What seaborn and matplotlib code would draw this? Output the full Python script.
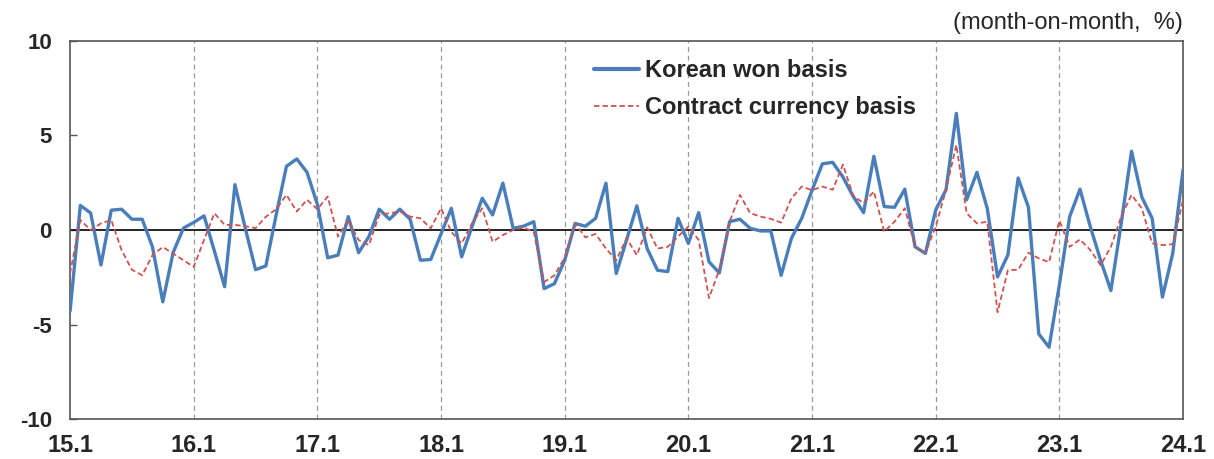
import numpy as np
import pandas as pd
import matplotlib
matplotlib.use("Agg")
import matplotlib.pyplot as plt
import seaborn as sns
from matplotlib.lines import Line2D

# ---- data (monthly, 2015.1 - 2024.1) ----
korean_won = [
    -4.3, 1.3, 0.9, -1.85, 1.05, 1.1, 0.57, 0.57, -0.9, -3.8, -1.2, 0.1,
    0.4, 0.75, -1.1, -3.0, 2.4, 0.1, -2.1, -1.9, 0.8, 3.37, 3.76, 3.05,
    1.35, -1.47, -1.33, 0.71, -1.2, -0.35, 1.1, 0.57, 1.1, 0.57, -1.6, -1.56,
    -0.2, 1.15, -1.42, 0.18, 1.68, 0.8, 2.48, 0.09, 0.2, 0.44, -3.1, -2.84,
    -1.6, 0.35, 0.2, 0.62, 2.48, -2.3, -0.53, 1.28, -0.98, -2.13, -2.2, 0.62,
    -0.71, 0.92, -1.68, -2.27, 0.44, 0.57, 0.09, -0.05, -0.05, -2.4, -0.44, 0.62,
    2.1, 3.5, 3.58, 2.8, 1.77, 0.92, 3.9, 1.24, 1.2, 2.16, -0.89, -1.24,
    1.06, 2.13, 6.17, 1.6, 3.05, 1.15, -2.48, -1.33, 2.75, 1.2, -5.5, -6.2,
    -2.9, 0.71, 2.16, 0.18, -1.6, -3.2, 0.35, 4.17, 1.74, 0.62, -3.55, -1.24,
    3.19,
]
contract_currency = [
    -2.3, 0.53, 0.0, 0.35, 0.53, -1.06, -2.1, -2.4, -1.33, -0.9, -1.24, -1.6,
    -1.95, -0.53, 0.89, 0.27, 0.27, 0.2, 0.1, 0.7, 1.1, 1.86, 0.98, 1.6,
    1.1, 1.77, -0.35, 0.53, -0.53, -0.8, 0.8, 0.89, 0.98, 0.71, 0.62, 0.09,
    1.15, -0.1, -0.71, 0.35, 1.15, -0.62, -0.27, 0.0, 0.14, -0.1, -2.75, -2.4,
    -1.45, 0.37, -0.39, -0.21, -0.98, -1.6, -0.44, -1.33, 0.14, -0.98, -0.89, -0.35,
    0.18, -0.53, -3.6, -2.1, 0.44, 1.86, 0.89, 0.71, 0.59, 0.39, 1.68, 2.3,
    2.1, 2.3, 2.13, 3.46, 1.8, 1.42, 2.04, -0.09, 0.44, 1.15, -0.89, -1.2,
    0.18, 2.13, 4.5, 0.89, 0.35, 0.44, -4.35, -2.13, -2.1, -1.2, -1.5, -1.7,
    0.5, -0.89, -0.5, -1.06, -1.86, -0.89, 0.71, 1.86, 1.15, -0.71, -0.8, -0.75,
    1.6,
]
tick_labels = ["15.1", "16.1", "17.1", "18.1", "19.1", "20.1", "21.1", "22.1", "23.1", "24.1"]
y_ticks = [-10, -5, 0, 5, 10]
series_names = ["Korean won basis", "Contract currency basis"]
unit_text = "(month-on-month,  %)"

n = len(korean_won)
df = pd.DataFrame({
    "month": np.tile(np.arange(n), 2),
    "value": korean_won + contract_currency,
    "series": [series_names[0]] * n + [series_names[1]] * n,
})

sns.set_style("white")
plt.rcParams["font.family"] = ["Liberation Sans", "DejaVu Sans"]

fig = plt.figure(figsize=(12.14, 4.59), dpi=100)
ax = fig.add_axes([0.0577, 0.0871, 0.9168, 0.8236])

blue = "#4A7EBB"
red = "#CC5350"
red_dash = (3, 1.7)

# vertical year grid
for k in range(1, len(tick_labels) - 1):
    ax.axvline(12 * k, color="#9A9A9A", linestyle=(0, (4, 3)), linewidth=0.9, zorder=0)
ax.axhline(0, color="black", linewidth=1.2, zorder=1)

sns.lineplot(data=df, x="month", y="value", hue="series", style="series",
             palette={series_names[0]: blue, series_names[1]: red},
             dashes={series_names[0]: "", series_names[1]: red_dash},
             ax=ax, legend=False, zorder=3)
data_lines = [l for l in ax.get_lines() if len(l.get_xdata()) == n]
data_lines[0].set_linewidth(2.4)
data_lines[1].set_linewidth(1.3)

ax.set_xlim(0, n - 1)
ax.set_ylim(-10, 10)
ax.set_xticks(np.arange(0, n, 12))
ax.set_xticklabels(tick_labels, fontsize=17, fontweight="bold")
ax.set_yticks(y_ticks)
ax.set_yticklabels([str(v) for v in y_ticks], fontsize=16, fontweight="bold")
ax.tick_params(axis="x", length=0, pad=11)
ax.tick_params(axis="y", direction="in", length=5, width=1, color="#555555", pad=13, left=True)
ax.set_xlabel("")
ax.set_ylabel("")
for s in ax.spines.values():
    s.set_visible(True)
    s.set_color("#555555")
    s.set_linewidth(1.2)

handles = [Line2D([], [], color=blue, linewidth=3),
           Line2D([], [], color=red, linewidth=1.3, linestyle=(0, red_dash))]
leg = ax.legend(handles, series_names, loc="upper left", bbox_to_anchor=(0.452, 1.008),
                frameon=False, prop={"size": 17, "weight": "bold"},
                handlelength=1.9, handletextpad=0.25, labelspacing=0.6)

fig.text(0.974, 0.925, unit_text, ha="right", va="bottom", fontsize=17)

fig.savefig("out.png", dpi=100)
